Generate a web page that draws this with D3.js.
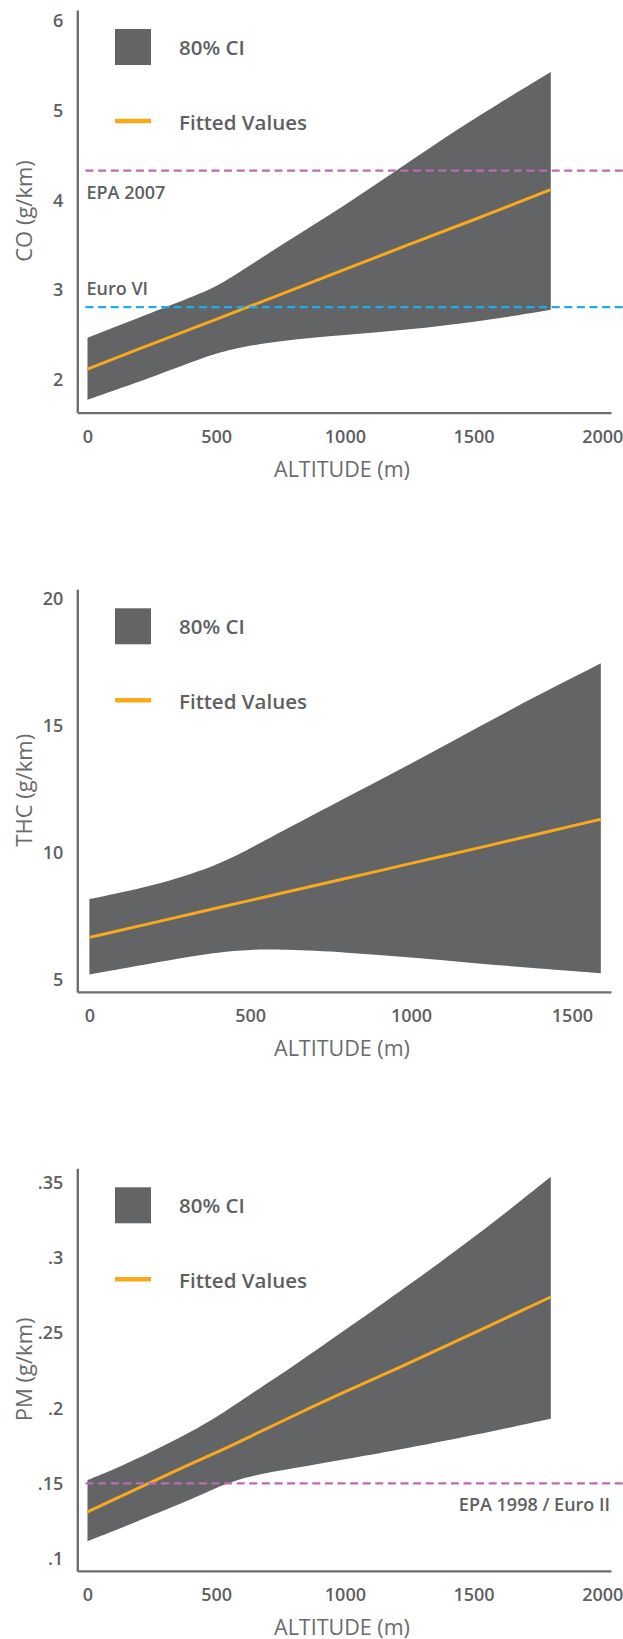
<!DOCTYPE html>
<html>
<head>
<meta charset="utf-8">
<script src="https://cdn.jsdelivr.net/npm/d3@7"></script>
<style>
  body { margin: 0; background: #fff; }
  text { font-family: "Open Sans", "Noto Sans", sans-serif; }
</style>
</head>
<body>
<svg id="charts"></svg>
<script>
// ---- data ----
const coAltitude = [0, 250, 450, 550, 750, 1000, 1250, 1500, 1800];
const coUpper    = [2.47, 2.75, 2.97, 3.12, 3.50, 3.94, 4.43, 4.91, 5.43];
const coLower    = [1.78, 2.03, 2.25, 2.34, 2.44, 2.50, 2.56, 2.64, 2.78];
const coFitted   = [2.12, 2.40, 2.62, 2.73, 2.95, 3.23, 3.51, 3.78, 4.12];
const coTicks = [2, 3, 4, 5, 6];
const coTickLabels = ['2', '3', '4', '5', '6'];
const coLimitValues = [4.33, 2.81];
const coLimitLabels = ['EPA 2007', 'Euro VI'];

const thcAltitude = [0, 200, 400, 500, 600, 800, 1000, 1200, 1400, 1590];
const thcUpper    = [8.17, 8.68, 9.50, 10.17, 10.85, 12.20, 13.50, 14.90, 16.25, 17.47];
const thcLower    = [5.20, 5.65, 6.09, 6.18, 6.19, 6.07, 5.88, 5.64, 5.43, 5.25];
const thcFitted   = [6.66, 7.24, 7.83, 8.12, 8.41, 8.99, 9.58, 10.16, 10.75, 11.32];
const thcTicks = [5, 10, 15, 20];
const thcTickLabels = ['5', '10', '15', '20'];

const pmAltitude = [0, 100, 250, 400, 520, 630, 800, 1000, 1200, 1500, 1800];
const pmUpper    = [0.1522, 0.159, 0.171, 0.184, 0.196, 0.209, 0.228, 0.252, 0.276, 0.313, 0.354];
const pmLower    = [0.1116, 0.118, 0.129, 0.139, 0.149, 0.155, 0.160, 0.166, 0.172, 0.182, 0.193];
const pmFitted   = [0.131, 0.139, 0.151, 0.163, 0.172, 0.181, 0.195, 0.211, 0.226, 0.250, 0.274];
const pmTicks = [0.1, 0.15, 0.2, 0.25, 0.3, 0.35];
const pmTickLabels = ['.1', '.15', '.2', '.25', '.3', '.35'];
const pmLimitValues = [0.15];
const pmLimitLabels = ['EPA 1998 / Euro II'];

const altTicks2000 = [0, 500, 1000, 1500, 2000];
const altTicks1500 = [0, 500, 1000, 1500];

const W = 623, H = 1639;
const bandColor = '#636466', fitColor = '#f9a91b', axisColor = '#6d6e70';
const textColor = '#5e5f61', titleColor = '#6a6b6d';
const purple = '#b86db2', blue = '#1fadea';

const svg = d3.select('#charts').attr('width', W).attr('height', H);

function drawPanel(p) {
    const g = svg.append('g').attr('transform', `translate(0,${p.offset})`);
    const x = d3.scaleLinear().domain(p.xDomain).range([77.3, 611]);
    const y = d3.scaleLinear().domain(p.yDomain).range([412.6, 10]);

    const rows = p.alt.map((a, i) => ({ a: a, lo: p.lower[i], hi: p.upper[i], fit: p.fitted[i] }));

    g.append('path')
        .datum(rows)
        .attr('fill', bandColor)
        .attr('d', d3.area().x(d => x(d.a)).y0(d => y(d.lo)).y1(d => y(d.hi)).curve(d3.curveBasis));

    g.append('path')
        .datum(rows)
        .attr('fill', 'none')
        .attr('stroke', fitColor)
        .attr('stroke-width', 3)
        .attr('d', d3.line().x(d => x(d.a)).y(d => y(d.fit)).curve(d3.curveBasis));

    // reference limits
    (p.limits || []).forEach((v, i) => {
        g.append('line')
            .attr('x1', x(0) - 2).attr('x2', W)
            .attr('y1', y(v)).attr('y2', y(v))
            .attr('stroke', p.limitColors[i])
            .attr('stroke-width', 2.3)
            .attr('stroke-dasharray', '8,4.6');
        const lab = p.limitLabelPos[i];
        g.append('text')
            .attr('x', lab.anchor === 'end' ? 610 : x(0) - 1)
            .attr('y', y(v) + lab.dy)
            .attr('dy', '0.35em')
            .attr('text-anchor', lab.anchor)
            .style('font-size', '18px')
            .style('font-weight', 600)
            .style('fill', textColor)
            .text(p.limitLabels[i]);
    });

    // axes
    const yAxis = g.append('g')
        .attr('transform', 'translate(77.3,0)')
        .call(d3.axisLeft(y).tickValues(p.yTicks).tickFormat((d, i) => p.yTickLabels[i])
            .tickSize(0).tickPadding(14));
    const xAxis = g.append('g')
        .attr('transform', 'translate(0,412.6)')
        .call(d3.axisBottom(x).tickValues(p.xTicks).tickFormat(d3.format('d'))
            .tickSize(0).tickPadding(17.5));
    [yAxis, xAxis].forEach(ax => {
        ax.select('.domain').attr('stroke', axisColor).attr('stroke-width', 2.4);
        ax.selectAll('text')
            .style('font-family', '"Open Sans", sans-serif')
            .style('font-size', '18px')
            .style('font-weight', 600)
            .style('fill', textColor);
    });

    g.append('text')
        .attr('x', 342).attr('y', 469).attr('dy', '0.35em')
        .attr('text-anchor', 'middle')
        .style('font-size', '21.5px')
        .style('fill', titleColor)
        .text('ALTITUDE (m)');
    g.append('text')
        .attr('transform', 'translate(24,211) rotate(-90)')
        .attr('dy', '0.35em')
        .attr('text-anchor', 'middle')
        .style('font-size', '22px')
        .style('fill', titleColor)
        .text(p.yTitle);

    // legend
    g.append('rect')
        .attr('x', 115).attr('y', 29).attr('width', 36).attr('height', 36)
        .attr('fill', bandColor);
    g.append('line')
        .attr('x1', 115).attr('x2', 151).attr('y1', 121).attr('y2', 121)
        .attr('stroke', fitColor).attr('stroke-width', 4.6);
    g.selectAll('.legText')
        .data([['80% CI', 48], ['Fitted Values', 122.5]])
        .join('text')
        .attr('x', 179).attr('y', d => d[1]).attr('dy', '0.35em')
        .style('font-size', '20.5px')
        .style('font-weight', 600)
        .style('fill', textColor)
        .text(d => d[0]);
}

drawPanel({
    offset: 0, alt: coAltitude, upper: coUpper, lower: coLower, fitted: coFitted,
    xDomain: [-39.6, 2034], yDomain: [1.636, 6.119], xTicks: altTicks2000,
    yTicks: coTicks, yTickLabels: coTickLabels, yTitle: 'CO (g/km)',
    limits: coLimitValues, limitLabels: coLimitLabels, limitColors: [purple, blue],
    limitLabelPos: [{ anchor: 'start', dy: 21.7 }, { anchor: 'start', dy: -18 }]
});
drawPanel({
    offset: 579.3, alt: thcAltitude, upper: thcUpper, lower: thcLower, fitted: thcFitted,
    xDomain: [-37.6, 1621.6], yDomain: [4.51, 20.39], xTicks: altTicks1500,
    yTicks: thcTicks, yTickLabels: thcTickLabels, yTitle: 'THC (g/km)'
});
drawPanel({
    offset: 1158.3, alt: pmAltitude, upper: pmUpper, lower: pmLower, fitted: pmFitted,
    xDomain: [-39.6, 2034], yDomain: [0.0918, 0.3596], xTicks: altTicks2000,
    yTicks: pmTicks, yTickLabels: pmTickLabels, yTitle: 'PM (g/km)',
    limits: pmLimitValues, limitLabels: pmLimitLabels, limitColors: [purple],
    limitLabelPos: [{ anchor: 'end', dy: 21.7 }]
});
</script>
</body>
</html>
